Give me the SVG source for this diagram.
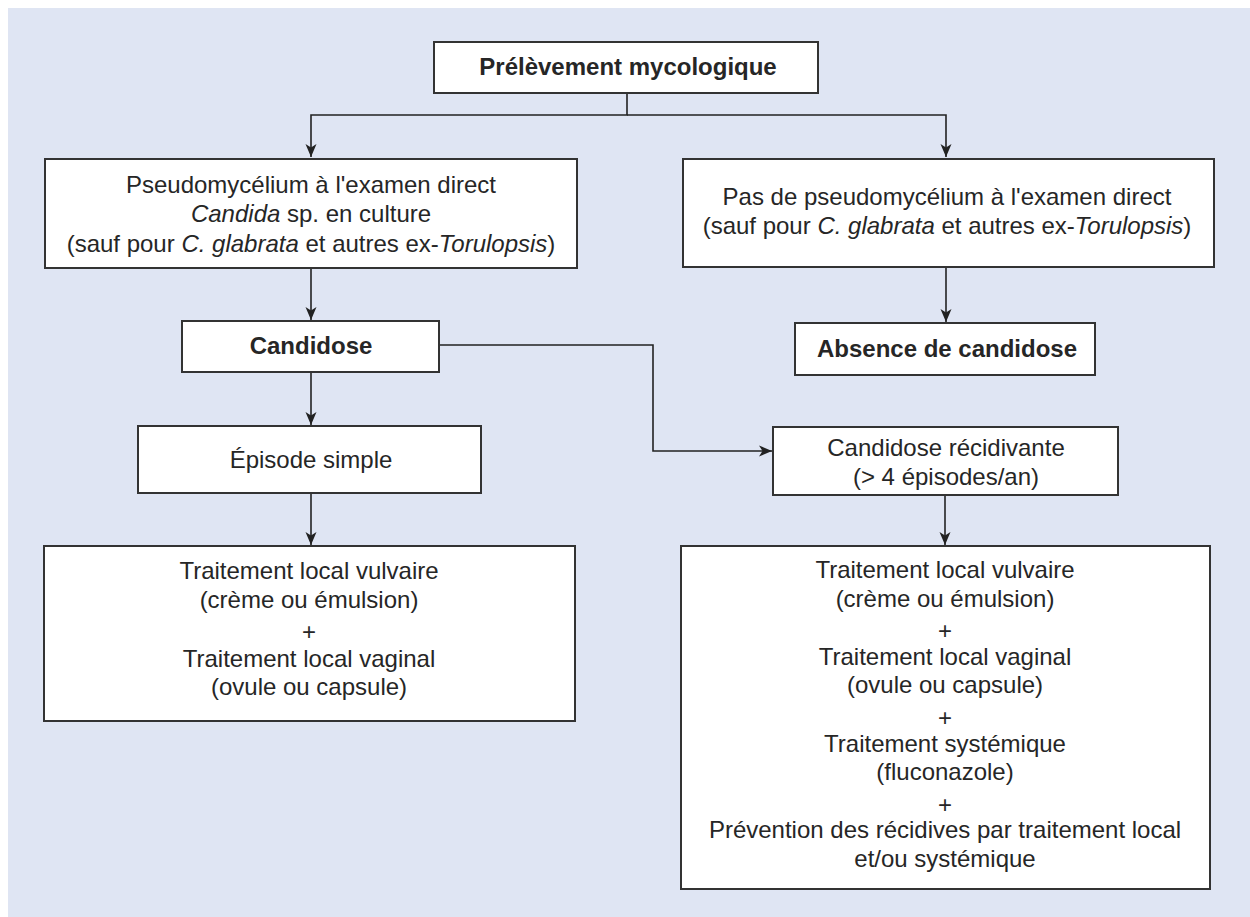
<svg xmlns="http://www.w3.org/2000/svg" width="1250" height="917" viewBox="0 0 1250 917">
<style>
.box{fill:#fff;stroke:#333;stroke-width:2}
.t{font-family:"Liberation Sans",Arial,sans-serif;font-size:24px;fill:#262626;text-anchor:middle}
.b{font-weight:bold}
.i{font-style:italic}
.c{fill:none;stroke:#222;stroke-width:1.6}
</style>
<defs>
<marker id="ah" viewBox="0 0 13 12" refX="13" refY="6" markerWidth="13" markerHeight="12" markerUnits="userSpaceOnUse" orient="auto">
<path d="M0,0.5 L13,6 L0,11.5 L3.5,6 Z" fill="#222"/>
</marker>
</defs>
<rect x="0" y="0" width="1250" height="917" fill="#fff"/>
<rect x="8" y="8" width="1242" height="909" fill="#dfe5f3"/>
<g id="connectors">
<path class="c" d="M627,93 V115 H311 V157" marker-end="url(#ah)"/>
<path class="c" d="M627,115 H946 V157" marker-end="url(#ah)"/>
<path class="c" d="M311,268 V320" marker-end="url(#ah)"/>
<path class="c" d="M946,267 V322" marker-end="url(#ah)"/>
<path class="c" d="M311,372 V425" marker-end="url(#ah)"/>
<path class="c" d="M439,345 H653 V451 H772" marker-end="url(#ah)"/>
<path class="c" d="M311,493 V545" marker-end="url(#ah)"/>
<path class="c" d="M945,495 V545" marker-end="url(#ah)"/>
</g>
<g id="n1">
<rect class="box" x="434" y="42" width="384" height="51"/>
<text class="t b" x="628" y="75">Prélèvement mycologique</text>
</g>
<g id="n2">
<rect class="box" x="45" y="159" width="532" height="109"/>
<text class="t" x="311" y="193">Pseudomycélium à l'examen direct</text>
<text class="t" x="311" y="222"><tspan class="i">Candida</tspan> sp. en culture</text>
<text class="t" x="311" y="252">(sauf pour <tspan class="i">C. glabrata</tspan> et autres ex-<tspan class="i">Torulopsis</tspan>)</text>
</g>
<g id="n3">
<rect class="box" x="683" y="159" width="531" height="108"/>
<text class="t" x="947" y="205">Pas de pseudomycélium à l'examen direct</text>
<text class="t" x="947" y="234">(sauf pour <tspan class="i">C. glabrata</tspan> et autres ex-<tspan class="i">Torulopsis</tspan>)</text>
</g>
<g id="n4">
<rect class="box" x="182" y="321" width="257" height="51"/>
<text class="t b" x="311" y="354">Candidose</text>
</g>
<g id="n5">
<rect class="box" x="795" y="323" width="300" height="52"/>
<text class="t b" x="947" y="357">Absence de candidose</text>
</g>
<g id="n6">
<rect class="box" x="138" y="426" width="343" height="67"/>
<text class="t" x="311" y="468">Épisode simple</text>
</g>
<g id="n7">
<rect class="box" x="773" y="427" width="345" height="68"/>
<text class="t" x="946" y="456">Candidose récidivante</text>
<text class="t" x="946" y="485">(&gt; 4 épisodes/an)</text>
</g>
<g id="n8">
<rect class="box" x="44" y="546" width="531" height="175"/>
<text class="t" x="309" y="579">Traitement local vulvaire</text>
<text class="t" x="309" y="608">(crème ou émulsion)</text>
<text class="t" x="309" y="640">+</text>
<text class="t" x="309" y="667">Traitement local vaginal</text>
<text class="t" x="309" y="695">(ovule ou capsule)</text>
</g>
<g id="n9">
<rect class="box" x="681" y="546" width="529" height="343"/>
<text class="t" x="945" y="578">Traitement local vulvaire</text>
<text class="t" x="945" y="607">(crème ou émulsion)</text>
<text class="t" x="945" y="639">+</text>
<text class="t" x="945" y="665">Traitement local vaginal</text>
<text class="t" x="945" y="693">(ovule ou capsule)</text>
<text class="t" x="945" y="726">+</text>
<text class="t" x="945" y="752">Traitement systémique</text>
<text class="t" x="945" y="780">(fluconazole)</text>
<text class="t" x="945" y="813">+</text>
<text class="t" x="945" y="838">Prévention des récidives par traitement local</text>
<text class="t" x="945" y="867">et/ou systémique</text>
</g>
</svg>
